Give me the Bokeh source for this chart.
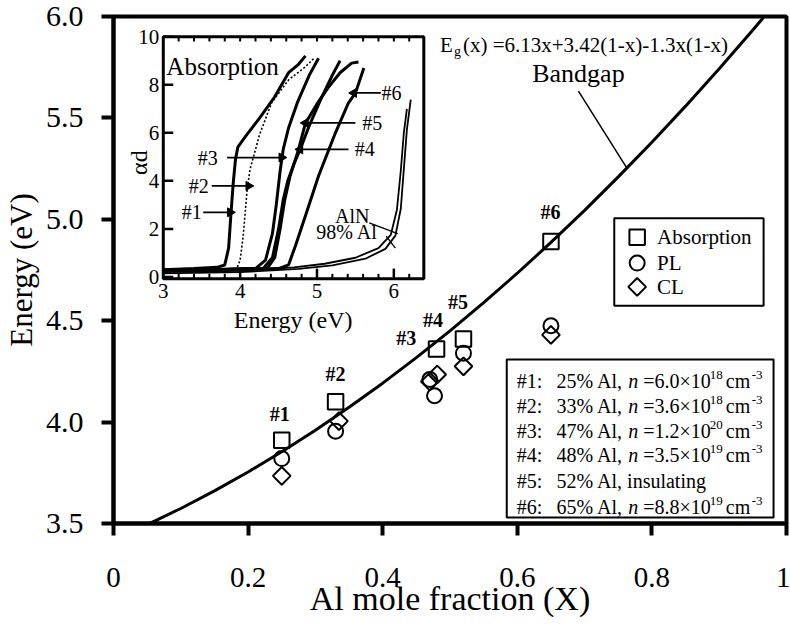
import math
from bokeh.plotting import figure
from bokeh.models import Range1d, FixedTicker, BoxAnnotation
from bokeh.core.properties import value
from bokeh.embed import file_html
from bokeh.resources import INLINE

FONT = "Liberation Serif"

# ---------------- main chart data ----------------
x_ticks = [0, 0.2, 0.4, 0.6, 0.8, 1.0]
x_tick_labels = ["0", "0.2", "0.4", "0.6", "0.8", "1"]
y_ticks = [3.5, 4.0, 4.5, 5.0, 5.5, 6.0]
y_tick_labels = ["3.5", "4.0", "4.5", "5.0", "5.5", "6.0"]

sample_ids = ["#1", "#2", "#3", "#4", "#5", "#6"]
legend_labels = ["Absorption", "PL", "CL"]

abs_x = [0.25, 0.33, 0.48, 0.52, 0.65]
abs_E = [3.91, 4.10, 4.36, 4.41, 4.89]
pl_x = [0.25, 0.33, 0.47, 0.477, 0.52, 0.65]
pl_E = [3.82, 3.955, 4.21, 4.13, 4.34, 4.475]
cl_x = [0.25, 0.335, 0.47, 0.481, 0.52, 0.65]
cl_E = [3.735, 4.005, 4.20, 4.235, 4.275, 4.43]

# bandgap curve
bandgap_x = [0.0, 0.05, 0.10, 0.15, 0.20, 0.25, 0.30, 0.35, 0.40, 0.45, 0.50,
             0.55, 0.60, 0.65, 0.70, 0.75, 0.80, 0.85, 0.90, 0.95, 1.0]
bandgap_E = [3.42, 3.494, 3.574, 3.661, 3.754, 3.854, 3.960, 4.073, 4.192, 4.318, 4.450,
             4.589, 4.734, 4.886, 5.044, 5.209, 5.380, 5.558, 5.742, 5.933, 6.13]

info_ids = ["#1:", "#2:", "#3:", "#4:", "#5:", "#6:"]
info_al = ["25% Al,", "33% Al,", "47% Al,", "48% Al,", "52% Al, insulating", "65% Al,"]
info_n = ["n", "n", "n", "n", "", "n"]
info_mant = ["=6.0\u00d710", "=3.6\u00d710", "=1.2\u00d710", "=3.5\u00d710", "", "=8.8\u00d710"]
info_exp = ["18", "18", "20", "19", "", "19"]
info_unit = ["cm", "cm", "cm", "cm", "", "cm"]
info_unit_exp = ["-3", "-3", "-3", "-3", "", "-3"]

# ---------------- inset (absorption) data ----------------
inset_x_ticks = [3, 4, 5, 6]
inset_x_tick_labels = ["3", "4", "5", "6"]
inset_y_ticks = [0, 2, 4, 6, 8, 10]
inset_y_tick_labels = ["0", "2", "4", "6", "8", "10"]
inset_x_minor = [3.2, 3.4, 3.6, 3.8, 4.2, 4.4, 4.6, 4.8, 5.2, 5.4, 5.6, 5.8, 6.2]

s1_E = [3.0, 3.4, 3.7, 3.8, 3.85, 3.88, 3.91, 3.94, 3.97, 4.07, 4.25, 4.45, 4.63, 4.76, 4.85]
s1_a = [0.3, 0.35, 0.4, 0.5, 1.2, 2.6, 3.9, 4.9, 5.4, 5.85, 6.6, 7.5, 8.5, 8.85, 9.2]
s2_E = [3.0, 3.5, 3.95, 4.0, 4.04, 4.09, 4.13, 4.2, 4.25, 4.41, 4.63, 4.85, 4.96]
s2_a = [0.25, 0.28, 0.3, 0.7, 1.7, 3.6, 4.5, 5.3, 5.9, 7.25, 8.2, 8.75, 9.1]
s3_E = [3.0, 3.6, 4.2, 4.33, 4.42, 4.47, 4.52, 4.56, 4.63, 4.75, 4.9, 5.02]
s3_a = [0.3, 0.3, 0.35, 0.7, 1.8, 3.0, 4.4, 5.3, 6.2, 7.3, 8.4, 9.1]
s4_E = [3.0, 3.6, 4.3, 4.42, 4.5, 4.56, 4.62, 4.7, 4.78, 4.9, 5.05, 5.2, 5.3]
s4_a = [0.3, 0.3, 0.35, 0.8, 2.0, 3.2, 4.0, 4.7, 5.3, 6.3, 7.4, 8.4, 9.0]
s5_E = [3.0, 3.6, 4.35, 4.45, 4.52, 4.58, 4.65, 4.75, 4.85, 5.0, 5.15, 5.3, 5.45, 5.54]
s5_a = [0.3, 0.3, 0.35, 0.8, 2.0, 3.2, 4.2, 5.2, 6.4, 7.2, 7.9, 8.5, 8.9, 8.95]
s6_E = [3.0, 3.6, 4.5, 4.63, 4.72, 4.85, 5.02, 5.24, 5.41, 5.5, 5.61]
s6_a = [0.3, 0.3, 0.35, 0.5, 1.3, 2.55, 4.2, 6.0, 7.25, 7.65, 8.7]
aln_E = [3.0, 4.0, 4.76, 5.2, 5.63, 5.89, 6.02, 6.09, 6.13, 6.17, 6.22]
aln_a = [0.15, 0.2, 0.34, 0.48, 0.76, 1.17, 1.72, 2.83, 4.48, 6.14, 7.38]
al98_E = [3.0, 4.0, 4.7, 5.1, 5.5, 5.8, 5.96, 6.04, 6.09, 6.13, 6.17]
al98_a = [0.2, 0.25, 0.4, 0.55, 0.8, 1.2, 1.75, 2.8, 4.4, 6.0, 7.0]

# ---------------- layout ----------------
W, H = 790, 634
FL, FT, FW, FH = 110, 16, 676, 507          # frame inside the canvas (px)
XR = (0.0, 1.0)
YR = (3.5, 6.0)
# positions below are given in reference-picture pixels (frame 110..786 x 13..523)
RFL, RFT, RFW, RFH = 110, 13, 676, 510


def px2x(px):
    return XR[0] + (px - RFL) / RFW * (XR[1] - XR[0])


def py2y(py):
    return YR[1] - (py - RFT) / RFH * (YR[1] - YR[0])


p = figure(width=W, height=H, x_range=Range1d(*XR), y_range=Range1d(*YR),
           output_backend="svg", toolbar_location=None,
           min_border_left=FL, min_border_right=W - FL - FW,
           min_border_top=FT, min_border_bottom=H - FT - FH)
p.grid.visible = False
p.outline_line_color = "black"
p.outline_line_width = 4
p.background_fill_color = "white"
p.border_fill_color = "white"

for ax in (p.xaxis[0], p.yaxis[0]):
    ax.axis_line_width = 4
    ax.major_tick_line_width = 4
    ax.major_tick_out = 12
    ax.major_tick_in = 0
    ax.minor_tick_line_color = None
    ax.major_label_text_font = FONT
    ax.major_label_text_color = "black"
    ax.axis_label_text_font = FONT
    ax.axis_label_text_font_style = "normal"
    ax.axis_label_text_color = "black"

p.xaxis.major_label_text_font_size = "29px"
p.yaxis.major_label_text_font_size = "30px"
p.xaxis.axis_label_text_font_size = "34px"
p.yaxis.axis_label_text_font_size = "31px"
p.xaxis.ticker = FixedTicker(ticks=x_ticks)
p.xaxis.major_label_overrides = dict(zip(x_ticks, x_tick_labels))
p.yaxis.ticker = FixedTicker(ticks=y_ticks)
p.yaxis.major_label_overrides = dict(zip(y_ticks, y_tick_labels))
p.xaxis.axis_label = "Al mole fraction (X)"
p.yaxis.axis_label = "Energy (eV)"
p.xaxis.major_label_standoff = 32
p.xaxis.axis_label_standoff = -10
p.yaxis.major_label_standoff = 18
p.yaxis.axis_label_standoff = 4

# bandgap curve
p.line(bandgap_x, bandgap_E, line_color="black", line_width=3)

# data points
mk = dict(fill_color=None, line_color="black", line_width=2)
p.scatter(abs_x, abs_E, marker="square", size=15.5, **mk)
p.scatter(pl_x, pl_E, marker="circle", size=15, **mk)
p.scatter(cl_x, cl_E, marker="square", angle=math.pi / 4, size=12.5, **mk)

# sample labels
lab_px = [277, 333, 404, 431, 456, 549]
lab_py = [413, 373, 336, 318, 300, 210]
p.text(x=[px2x(v) for v in lab_px], y=[py2y(v) for v in lab_py], text=sample_ids,
       text_font=value(FONT), text_font_size="20px", text_font_style="bold",
       text_align="center", text_baseline="middle", text_color="black")

# equation and bandgap pointer
p.text(x=[px2x(438)], y=[py2y(42)], text=["E"], text_font=value(FONT), text_font_size="21px",
       text_align="left", text_baseline="middle", text_color="black")
p.text(x=[px2x(452)], y=[py2y(48)], text=["g"], text_font=value(FONT), text_font_size="14px",
       text_align="left", text_baseline="middle", text_color="black")
p.text(x=[px2x(461)], y=[py2y(42)], text=["(x) =6.13x+3.42(1-x)-1.3x(1-x)"], text_font=value(FONT),
       text_font_size="21px", text_align="left", text_baseline="middle", text_color="black")
p.text(x=[px2x(577)], y=[py2y(70)], text=["Bandgap"], text_font=value(FONT),
       text_font_size="26px", text_align="center", text_baseline="middle", text_color="black")
p.segment(x0=[px2x(577)], y0=[py2y(88)], x1=[px2x(626)], y1=[py2y(166)],
          line_color="black", line_width=1.5)

box_style = dict(fill_color=None, line_color="black", line_alpha=1.0, line_width=2, level="underlay")

# legend (drawn as box, key symbols and labels)
p.add_layout(BoxAnnotation(left=px2x(613), right=px2x(763), top=py2y(216), bottom=py2y(304),
                           **box_style))
leg_y = [py2y(235), py2y(261), py2y(285)]
p.scatter([px2x(636)], [leg_y[0]], marker="square", size=15.5, **mk)
p.scatter([px2x(636)], [leg_y[1]], marker="circle", size=15, **mk)
p.scatter([px2x(636)], [leg_y[2]], marker="square", angle=math.pi / 4, size=12.5, **mk)
p.text(x=[px2x(656)] * 3, y=leg_y, text=legend_labels, text_font=value(FONT),
       text_font_size="21px", text_align="left", text_baseline="middle", text_color="black")

# info box
p.add_layout(BoxAnnotation(left=px2x(505), right=px2x(773), top=py2y(358), bottom=py2y(517),
                           **box_style))
row_py = [380, 404.5, 429.5, 454.5, 480, 506]
row_y = [py2y(v) for v in row_py]
row_sup = [py2y(v - 6) for v in row_py]
common = dict(text_font=value(FONT), text_font_size="20px", text_align="left",
              text_baseline="middle", text_color="black")
small = dict(text_font=value(FONT), text_font_size="13px", text_align="left",
             text_baseline="middle", text_color="black")
p.text(x=[px2x(515)] * 6, y=row_y, text=info_ids, **common)
p.text(x=[px2x(555)] * 6, y=row_y, text=info_al, **common)
p.text(x=[px2x(627)] * 6, y=row_y, text=info_n, text_font_style="italic", **common)
p.text(x=[px2x(642)] * 6, y=row_y, text=info_mant, **common)
p.text(x=[px2x(709)] * 6, y=row_sup, text=info_exp, **small)
p.text(x=[px2x(725)] * 6, y=row_y, text=info_unit, **common)
p.text(x=[px2x(751)] * 6, y=row_sup, text=info_unit_exp, **small)

# ---------------- inset ----------------
IX = (3.0, 6.39)
IY = (-0.07, 10.0)
ins = p.subplot(x_source=Range1d(*IX), y_source=Range1d(*IY),
                x_target=Range1d(px2x(160), px2x(421.7)),
                y_target=Range1d(py2y(276.7), py2y(33.3)))
ins.quad(left=[IX[0]], right=[IX[1]], bottom=[IY[0]], top=[IY[1]],
         fill_color="white", line_color="black", line_width=3)

# inset ticks
nm = len(inset_x_minor)
ins.segment(x0=inset_x_ticks, y0=[IY[0]] * 4, x1=inset_x_ticks, y1=[IY[0] + 0.42] * 4,
            line_color="black", line_width=2.5)
ins.segment(x0=inset_x_minor, y0=[IY[0]] * nm, x1=inset_x_minor, y1=[IY[0] + 0.2] * nm,
            line_color="black", line_width=2)
ins.segment(x0=inset_x_ticks + inset_x_minor, y0=[IY[1]] * (4 + nm),
            x1=inset_x_ticks + inset_x_minor, y1=[IY[1] - 0.2] * (4 + nm),
            line_color="black", line_width=2)
ins.segment(x0=[IX[0]] * 6, y0=inset_y_ticks, x1=[IX[0] + 0.13] * 6, y1=inset_y_ticks,
            line_color="black", line_width=2.5)
ins.text(x=inset_x_ticks, y=[IY[0]] * 4, text=inset_x_tick_labels, y_offset=5,
         text_font=value(FONT), text_font_size="21px", text_align="center",
         text_baseline="top", text_color="black")
ins.text(x=[IX[0]] * 6, y=inset_y_ticks, text=inset_y_tick_labels, x_offset=-4,
         text_font=value(FONT), text_font_size="21px", text_align="right",
         text_baseline="middle", text_color="black")
ins.text(x=[4.69], y=[-1.8], text=["Energy (eV)"], text_font=value(FONT), text_font_size="24px",
         text_align="center", text_baseline="middle", text_color="black")
ins.text(x=[2.69], y=[4.76], text=["\u03b1d"], angle=math.pi / 2, text_font=value(FONT),
         text_font_size="24px", text_align="center", text_baseline="middle", text_color="black")

# inset curves
for E, a in [(s1_E, s1_a), (s3_E, s3_a), (s4_E, s4_a), (s5_E, s5_a), (s6_E, s6_a)]:
    ins.line(E, a, line_color="black", line_width=3)
ins.line(s2_E, s2_a, line_color="black", line_width=1.6, line_dash="2 2")
ins.line(aln_E, aln_a, line_color="black", line_width=1.8)
ins.line(al98_E, al98_a, line_color="black", line_width=1.8)

# inset labels and arrows
ins.text(x=[3.04], y=[8.76], text=["Absorption"], text_font=value(FONT), text_font_size="25px",
         text_align="left", text_baseline="middle", text_color="black")
ins.text(x=[3.37, 3.46, 3.58, 5.62, 5.72, 5.97], y=[2.69, 3.79, 4.97, 5.31, 6.41, 7.66],
         text=sample_ids, text_font=value(FONT), text_font_size="20px",
         text_align="center", text_baseline="middle", text_color="black")
ins.text(x=[5.46, 5.39], y=[2.55, 1.86], text=["AlN", "98% Al"], text_font=value(FONT),
         text_font_size="20px", text_align="center", text_baseline="middle", text_color="black")
arr_x0 = [3.52, 3.63, 3.83, 5.41, 5.50, 5.83]
arr_x1 = [3.87, 4.11, 4.54, 4.78, 4.85, 5.48]
arr_y = [2.69, 3.79, 4.97, 5.31, 6.41, 7.66]
ins.segment(x0=arr_x0, y0=arr_y, x1=arr_x1, y1=arr_y, line_color="black", line_width=1.8)
ins.scatter(x=arr_x1, y=arr_y, marker="triangle",
            angle=[-math.pi / 2] * 3 + [math.pi / 2] * 3, size=9,
            fill_color="black", line_color="black")
ins.segment(x0=[5.68, 5.90], y0=[2.25, 1.70], x1=[6.05, 6.02], y1=[1.80, 1.20],
            line_color="black", line_width=1.3)

open("out.html", "w").write(file_html(p, INLINE))
